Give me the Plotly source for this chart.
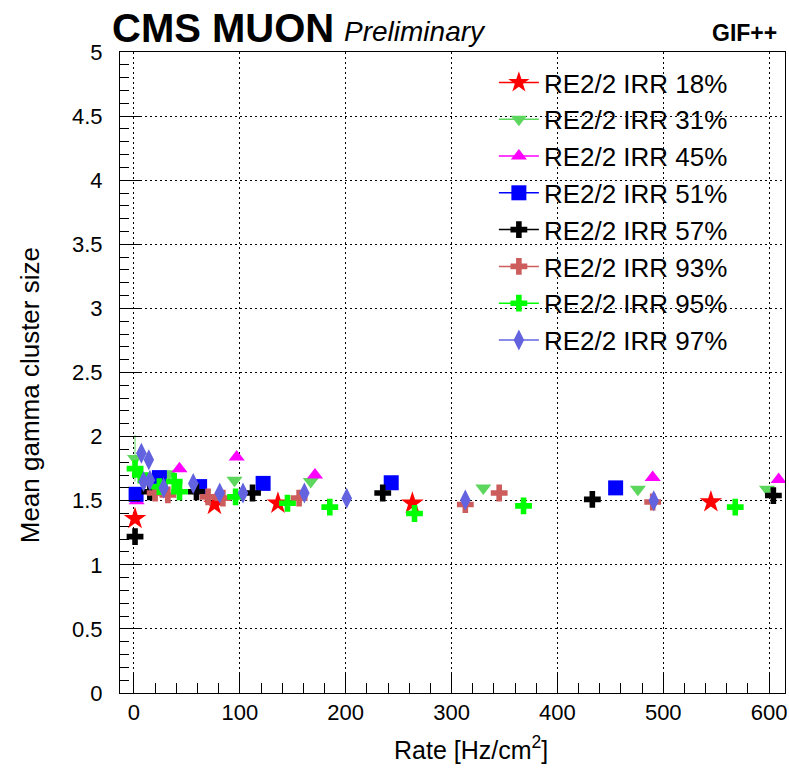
import plotly.graph_objects as go

# ---- data ----
labels = ["RE2/2 IRR 18%", "RE2/2 IRR 31%", "RE2/2 IRR 45%", "RE2/2 IRR 51%",
          "RE2/2 IRR 57%", "RE2/2 IRR 93%", "RE2/2 IRR 95%", "RE2/2 IRR 97%"]

x18 = [1, 76, 136, 263, 545]
y18 = [1.36, 1.47, 1.48, 1.48, 1.49]

x31 = [1, 33, 95, 167, 330, 476, 598]
y31 = [1.83, 1.71, 1.66, 1.65, 1.60, 1.59, 1.59]
e31 = [0.18, 0, 0, 0, 0, 0, 0]

x45 = [2.5, 43, 97, 171, 490, 609]
y45 = [1.50, 1.75, 1.84, 1.70, 1.68, 1.665]

x51 = [2, 24, 62, 122, 243, 455]
y51 = [1.55, 1.68, 1.61, 1.635, 1.64, 1.60]

x57 = [1, 15, 59, 112, 235, 433, 604]
y57 = [1.22, 1.57, 1.57, 1.56, 1.56, 1.51, 1.54]

x93 = [20, 32, 70, 84, 156, 313, 345, 490]
y93 = [1.56, 1.545, 1.53, 1.52, 1.52, 1.47, 1.56, 1.49]

x95 = [1, 6, 24, 38, 43, 96, 145, 185, 265, 368, 568]
y95 = [1.75, 1.70, 1.61, 1.65, 1.57, 1.53, 1.48, 1.45, 1.40, 1.46, 1.45]

x97 = [7, 14, 9, 15, 28, 56, 81, 103, 161, 201, 313, 491]
y97 = [1.87, 1.82, 1.65, 1.66, 1.60, 1.635, 1.56, 1.56, 1.56, 1.52, 1.505, 1.50]

xs = [x18, x31, x45, x51, x57, x93, x95, x97]
ys = [y18, y31, y45, y51, y57, y93, y95, y97]
errs = [None, e31, None, None, None, None, None, None]

colors = ["#ff0000", "#5cd65c", "#ff00ff", "#0000ff", "#000000", "#cd5c5c", "#00ff00", "#6363e0"]
symbols = ["star", "triangle-down", "triangle-up", "square", "cross", "cross", "cross", "diamond-tall"]
sizes = [17, 14, 14, 15, 14, 14, 14, 15]

FONT = "Liberation Sans"

fig = go.Figure()
for i in range(len(labels)):
    kw = {}
    if errs[i] is not None:
        kw["error_y"] = dict(type="data", array=errs[i], visible=True,
                             color=colors[i], thickness=1, width=0)
    fig.add_trace(go.Scatter(
        x=xs[i], y=ys[i], mode="markers", showlegend=False,
        marker=dict(symbol=symbols[i], color=colors[i], size=sizes[i], line=dict(width=0)),
        **kw))
# legend entries (line + marker as in the original)
for i in range(len(labels)):
    fig.add_trace(go.Scatter(
        x=[None], y=[None], mode="lines+markers", name=labels[i],
        line=dict(color=colors[i], width=1.5),
        marker=dict(symbol=symbols[i], color=colors[i], size=sizes[i], line=dict(width=0))))

L, R, T, B = 120, 2, 52, 78
W, H = 789, 771
pw, ph = W - L - R, H - T - B

def px_x(p):
    return (p - L) / pw

def px_y(p):
    return (H - B - p) / ph

axis_common = dict(
    showline=True, linecolor="black", linewidth=1, mirror=True,
    ticks="inside", tickcolor="black", tickwidth=1,
    showgrid=True, gridcolor="black", griddash="2px,3px", gridwidth=1,
    zeroline=False, ticklabeloverflow="allow",
    tickfont=dict(family=FONT, size=22, color="black"),
)

fig.update_xaxes(range=[-13.2, 615], dtick=100, tick0=0, ticklen=19,
                 minor=dict(dtick=20, ticks="inside", ticklen=10, tickcolor="black", showgrid=False),
                 ticklabelstandoff=0, **axis_common)
fig.update_yaxes(range=[0, 5], dtick=0.5, tick0=0, ticklen=20,
                 minor=dict(dtick=0.1, ticks="inside", ticklen=9, tickcolor="black", showgrid=False),
                 ticklabelstandoff=12, **axis_common)

annotations = [
    dict(text="<b>CMS MUON</b>", x=px_x(110), y=px_y(28), xanchor="left", yanchor="middle",
         font=dict(family=FONT, size=40, color="black")),
    dict(text="<i>Preliminary</i>", x=px_x(343), y=px_y(31), xanchor="left", yanchor="middle",
         font=dict(family=FONT, size=28, color="black")),
    dict(text="<b>GIF++</b>", x=px_x(781), y=px_y(33), xanchor="right", yanchor="middle",
         font=dict(family=FONT, size=23, color="black")),
    dict(text="Mean gamma cluster size", x=px_x(30), y=px_y(395), xanchor="center", yanchor="middle",
         textangle=-90, font=dict(family=FONT, size=26, color="black")),
    dict(text="Rate [Hz/cm<sup>2</sup>]", x=px_x(472), y=px_y(748), xanchor="center", yanchor="middle",
         font=dict(family=FONT, size=25, color="black")),
]
for a in annotations:
    a.update(xref="paper", yref="paper", showarrow=False)

fig.update_layout(
    width=W, height=H,
    margin=dict(l=L, r=R, t=T, b=B),
    paper_bgcolor="white", plot_bgcolor="white",
    annotations=annotations,
    legend=dict(x=px_x(495), y=px_y(59), xanchor="left", yanchor="top",
                bgcolor="rgba(0,0,0,0)", borderwidth=0, itemwidth=40,
                font=dict(family=FONT, size=26, color="black")),
)

fig.write_html("out.html")
